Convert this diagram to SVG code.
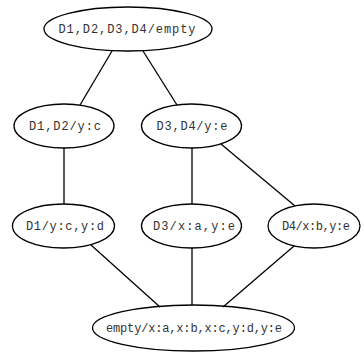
<svg xmlns="http://www.w3.org/2000/svg" width="364" height="353" viewBox="0 0 364 353">
<style>
ellipse{fill:none;stroke:#000;stroke-width:1.3}
text{font-family:"Liberation Mono","Courier New",monospace;font-size:12px;fill:#333;text-anchor:middle}
.e line{stroke:#000;stroke-width:1.3}
</style>
<rect width="364" height="353" fill="#fff"/>
<g class="e" id="edges">
<line x1="112" y1="51" x2="80" y2="105"/>
<line x1="143" y1="51" x2="177" y2="105"/>
<line x1="64" y1="148" x2="64" y2="204"/>
<line x1="192" y1="148" x2="192" y2="204"/>
<line x1="221" y1="144" x2="295" y2="206"/>
<line x1="91" y1="245" x2="160" y2="307"/>
<line x1="192" y1="248" x2="192" y2="305"/>
<line x1="294" y1="246" x2="223" y2="307"/>
</g>
<g id="n0"><ellipse cx="128" cy="29" rx="84" ry="22"/><text x="127" y="33" textLength="137" lengthAdjust="spacing">D1,D2,D3,D4/empty</text></g>
<g id="n1"><ellipse cx="64" cy="126" rx="50" ry="22"/><text x="65" y="130" textLength="72" lengthAdjust="spacing">D1,D2/y:c</text></g>
<g id="n2"><ellipse cx="191.5" cy="126" rx="50" ry="22"/><text x="192" y="130" textLength="71" lengthAdjust="spacing">D3,D4/y:e</text></g>
<g id="n3"><ellipse cx="63.5" cy="226" rx="51" ry="22"/><text x="65" y="230" textLength="78" lengthAdjust="spacing">D1/y:c,y:d</text></g>
<g id="n4"><ellipse cx="191.5" cy="226" rx="50" ry="22"/><text x="194" y="230" textLength="82" lengthAdjust="spacing">D3/x:a,y:e</text></g>
<g id="n5"><ellipse cx="314" cy="226" rx="46" ry="22"/><text x="316" y="230" textLength="68" lengthAdjust="spacing">D4/x:b,y:e</text></g>
<g id="n6"><ellipse cx="193.5" cy="328" rx="101" ry="23"/><text x="194" y="332" textLength="176" lengthAdjust="spacing">empty/x:a,x:b,x:c,y:d,y:e</text></g>
</svg>
